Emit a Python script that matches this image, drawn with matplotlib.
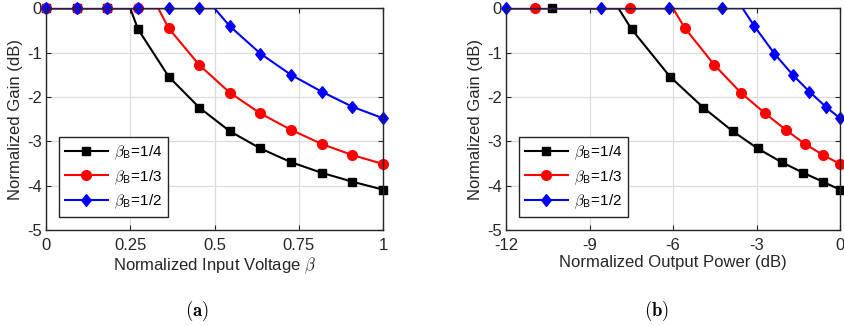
import numpy as np
import matplotlib
matplotlib.use("Agg")
import matplotlib.pyplot as plt
from matplotlib.lines import Line2D

plt.rcParams['font.family'] = ['Liberation Sans', 'DejaVu Sans']
plt.rcParams['mathtext.fontset'] = 'cm'

# Normalized input voltage at the marker positions
beta = [0.0, 0.091, 0.182, 0.273, 0.364, 0.455, 0.545, 0.636, 0.727, 0.818, 0.909, 1.0]

# Normalized gain (dB) for each breakpoint beta_B
gain_q = [0, 0, 0, -0.47, -1.54, -2.24, -2.77, -3.16, -3.47, -3.71, -3.91, -4.09]
gain_t = [0, 0, 0, 0, -0.45, -1.28, -1.90, -2.37, -2.74, -3.06, -3.31, -3.51]
gain_h = [0, 0, 0, 0, 0, 0, -0.40, -1.02, -1.50, -1.88, -2.22, -2.48]

# Normalized output power (dB) at the same points (beta = 0 gives -inf)
pout_q = [np.nan, -16.4, -10.36, -7.49, -6.11, -4.91, -3.86, -2.96, -2.10, -1.32, -0.62, 0.0]
pout_t = [np.nan, -17.0, -10.96, -7.55, -5.57, -4.51, -3.57, -2.69, -1.95, -1.26, -0.60, 0.0]
pout_h = [np.nan, -18.0, -12.0, -8.59, -6.14, -4.25, -3.08, -2.36, -1.70, -1.10, -0.51, 0.0]

# Onset of gain compression on each axis
knee_beta = [0.25, 0.333, 0.5]
knee_pout = [-7.96, -6.0, -3.5]

labels = [r'$\beta_{\mathsf{B}}$=1/4', r'$\beta_{\mathsf{B}}$=1/3', r'$\beta_{\mathsf{B}}$=1/2']
colors = ['black', 'red', 'blue']
diamond = [(0, 1), (0.8, 0), (0, -1), (-0.8, 0), (0, 1)]
markers = ['s', 'o', diamond]
msizes = [6, 7, 8.5]

xticks_a = [0, 0.25, 0.5, 0.75, 1]
xticklabels_a = ['0', '0.25', '0.5', '0.75', '1']
xticks_b = [-12, -9, -6, -3, 0]
yticks = [0, -1, -2, -3, -4, -5]

W, H = 844, 326
fig = plt.figure(figsize=(W / 100, H / 100), dpi=100)

def px_axes(x0, x1, y0, y1):
    return fig.add_axes([x0 / W, 1 - y1 / H, (x1 - x0) / W, (y1 - y0) / H])

ax_a = px_axes(46, 383, 8.3, 230)
ax_b = px_axes(506, 840, 8.3, 230)

dark = '#262626'
FS = 12

def with_knee(x, y, kx):
    x = list(x)
    y = list(y)
    i = int(np.searchsorted(np.array(x), kx))
    x.insert(i, kx)
    y.insert(i, 0.0)
    return x, y

def style(ax, xlim, xticks, xticklabels):
    ax.set_xlim(*xlim)
    ax.set_ylim(-5, 0)
    ax.set_xticks(xticks)
    ax.set_xticklabels(xticklabels)
    ax.set_yticks(yticks)
    ax.set_yticklabels([str(t) for t in yticks])
    ax.grid(True, color='#dcdcdc', linewidth=0.9)
    ax.set_axisbelow(True)
    for s in ax.spines.values():
        s.set_color(dark)
        s.set_linewidth(1.0)
        s.set_zorder(5)
    ax.tick_params(direction='in', length=3.5, width=0.8, color=dark,
                   labelcolor=dark, labelsize=FS, top=True, right=True)
    ax.tick_params(axis='x', pad=5.5)
    ax.tick_params(axis='y', pad=3)
    ax.set_ylabel('Normalized Gain (dB)', fontsize=FS, color=dark, labelpad=3)

series_a = [gain_q, gain_t, gain_h]
pouts = [pout_q, pout_t, pout_h]

for k in range(3):
    lx, ly = with_knee(beta, series_a[k], knee_beta[k])
    ax_a.plot(lx, ly, color=colors[k], lw=1.5, zorder=2 + k)
    ax_a.plot(beta, series_a[k], linestyle='None', marker=markers[k], ms=msizes[k],
              mfc=colors[k], mec=colors[k], clip_on=False, zorder=2 + k)

    px = np.array(pouts[k], dtype=float)
    gy = np.array(series_a[k], dtype=float)
    ok = np.isfinite(px)
    lx, ly = with_knee(px[ok], gy[ok], knee_pout[k])
    ax_b.plot(lx, ly, color=colors[k], lw=1.5, zorder=2 + k)
    vis = ok & (px >= -12.05)
    ax_b.plot(px[vis], gy[vis], linestyle='None', marker=markers[k], ms=msizes[k],
              mfc=colors[k], mec=colors[k], clip_on=False, zorder=2 + k)

style(ax_a, (0, 1), xticks_a, xticklabels_a)
style(ax_b, (-12, 0), xticks_b, [str(t) for t in xticks_b])
ax_a.set_xlabel(r'Normalized Input Voltage $\beta$', fontsize=FS, color=dark, labelpad=2)
ax_b.set_xlabel('Normalized Output Power (dB)', fontsize=FS, color=dark, labelpad=2)

for ax in (ax_a, ax_b):
    proxies = [Line2D([], [], color=colors[k], lw=1.5, marker=markers[k], ms=msizes[k],
                      mfc=colors[k], mec=colors[k]) for k in range(3)]
    leg = ax.legend(proxies, labels, loc='lower left', bbox_to_anchor=(0.038, 0.058),
                    borderaxespad=0, fancybox=False, framealpha=1, edgecolor=dark,
                    fontsize=11, handlelength=2.8, handletextpad=0.4,
                    labelspacing=0.4, borderpad=0.4)
    leg.get_frame().set_linewidth(1.0)
    leg.set_zorder(10)

fig.text(197 / W, 1 - 311 / H, r'$\mathbf{(a)}$', ha='center', va='center', fontsize=13.5)
fig.text(657 / W, 1 - 311 / H, r'$\mathbf{(b)}$', ha='center', va='center', fontsize=13.5)

fig.savefig('out.png', dpi=100)
